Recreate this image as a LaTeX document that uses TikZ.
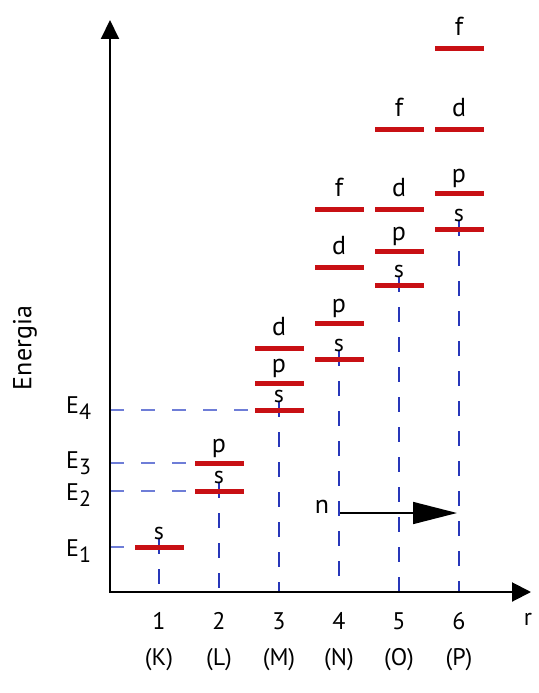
\documentclass[tikz,border=0pt]{standalone}
\usepackage{fontspec}
\setmainfont{PT Sans}
\usetikzlibrary{arrows.meta}
\definecolor{barred}{RGB}{200,16,20}
\definecolor{vblue}{RGB}{40,55,185}
\definecolor{hblue}{RGB}{110,125,215}
\tikzset{
  lvlbar/.style={fill=barred, draw=none, minimum width=49pt, minimum height=5pt, inner sep=0pt, outer sep=0pt},
  lvltxt/.style={anchor=base, font=\fontsize{26}{26}\selectfont, inner sep=0pt},
  axlbl/.style={font=\fontsize{24}{24}\selectfont, inner sep=0pt},
  shell/.style={font=\fontsize{24}{24}\selectfont, inner sep=0pt},
  elbl/.style={anchor=base west, font=\fontsize{24}{24}\selectfont, inner sep=0pt},
  axisline/.style={line width=2pt, {Triangle[length=19pt,width=18pt]}-{Triangle[length=19pt,width=19pt]}},
  vdash/.style={draw=vblue, line width=1.6pt, dash pattern=on 15pt off 15pt},
  hdash/.style={draw=hblue, line width=2pt, dash pattern=on 14pt off 17pt},
}
\begin{document}
\begin{tikzpicture}[x=1pt,y=-1pt]
\useasboundingbox (0,0) rectangle (538,693);
% axes
\coordinate (O) at (110,592);
\coordinate (ytip) at (110,20);
\coordinate (xtip) at (531,592);
% bars
\node[lvlbar] (b1s) at (159,547) {};
\node[lvlbar] (b2s) at (219,491) {};
\node[lvlbar] (b2p) at (219,463) {};
\node[lvlbar] (b3s) at (279,410) {};
\node[lvlbar] (b3p) at (279,383) {};
\node[lvlbar] (b3d) at (279,348) {};
\node[lvlbar] (b4s) at (339,359) {};
\node[lvlbar] (b4p) at (339,323) {};
\node[lvlbar] (b4d) at (339,267) {};
\node[lvlbar] (b4f) at (339,209) {};
\node[lvlbar] (b5s) at (399,285) {};
\node[lvlbar] (b5p) at (399,251) {};
\node[lvlbar] (b5d) at (399,209) {};
\node[lvlbar] (b5f) at (399,129) {};
\node[lvlbar] (b6s) at (459,229) {};
\node[lvlbar] (b6p) at (459,193) {};
\node[lvlbar] (b6d) at (459,129) {};
\node[lvlbar] (b6f) at (459,49) {};
% dashed guide lines
\foreach \b in {b1s,b2s,b3s,b4s,b5s,b6s}{
  \draw[vdash] ([yshift=8pt]\b.center) -- (\b.center |- O);
}
\draw[hdash] (O |- b1s) -- (b1s.center);
\draw[hdash] (O |- b2s) -- (b2s.west);
\draw[hdash] (O |- b2p) -- (b2p.west);
\draw[hdash] (O |- b3s) -- (b3s.west);
% bars on top
\foreach \b in {b1s,b2s,b2p,b3s,b3p,b3d,b4s,b4p,b4d,b4f,b5s,b5p,b5d,b5f,b6s,b6p,b6d,b6f}{
  \fill[barred] (\b.south west) rectangle (\b.north east);
}
% axes
\draw[axisline] (ytip) -- (O) -- (xtip);
% level letters
\foreach \b in {b1s,b2s,b3s,b4s,b5s,b6s}{
  \node[lvltxt, font=\fontsize{24}{24}\selectfont] (t\b) at ([yshift=8pt]\b.center) {s};
}
\foreach \b in {b2p,b3p,b4p,b5p,b6p}{
  \node[lvltxt] (t\b) at ([yshift=11pt]\b.center) {p};
}
\foreach \b in {b3d,b4d,b5d,b6d}{
  \node[lvltxt] (t\b) at ([yshift=13pt]\b.center) {d};
}
\foreach \b in {b4f,b5f,b6f}{
  \node[lvltxt] (t\b) at ([yshift=13pt]\b.center) {f};
}
% E labels
\node[elbl] (E1) at (66,556) {E\raisebox{-6pt}{\fontsize{22}{22}\selectfont 1}};
\node[elbl] (E2) at (66,500) {E\raisebox{-6pt}{\fontsize{22}{22}\selectfont 2}};
\node[elbl] (E3) at (66,468) {E\raisebox{-6pt}{\fontsize{22}{22}\selectfont 3}};
\node[elbl] (E4) at (66,413) {E\raisebox{-6pt}{\fontsize{22}{22}\selectfont 4}};
% Energia
\node[rotate=90, inner sep=0pt, font=\fontsize{26}{26}\selectfont] (energia) at (25,348) {Energia};
% x labels
\foreach \b/\n/\l in {b1s/1/K,b2s/2/L,b3s/3/M,b4s/4/N,b5s/5/O,b6s/6/P}{
  \node[axlbl] (n\b) at (\b.center |- 0,621) {\n};
  \node[shell] (l\b) at (\b.center |- 0,660) {(\l)};
}
\node[axlbl] (r) at (528,619) {r};
% n arrow
\node[inner sep=0pt, font=\fontsize{26}{26}\selectfont] (n) at (322,507) {n};
\coordinate (nstart) at (340,513);
\coordinate (nend) at (457,513);
\draw[line width=1.6pt, -{Triangle[length=44pt,width=22pt]}] (nstart) -- (nend);
\end{tikzpicture}
\end{document}
